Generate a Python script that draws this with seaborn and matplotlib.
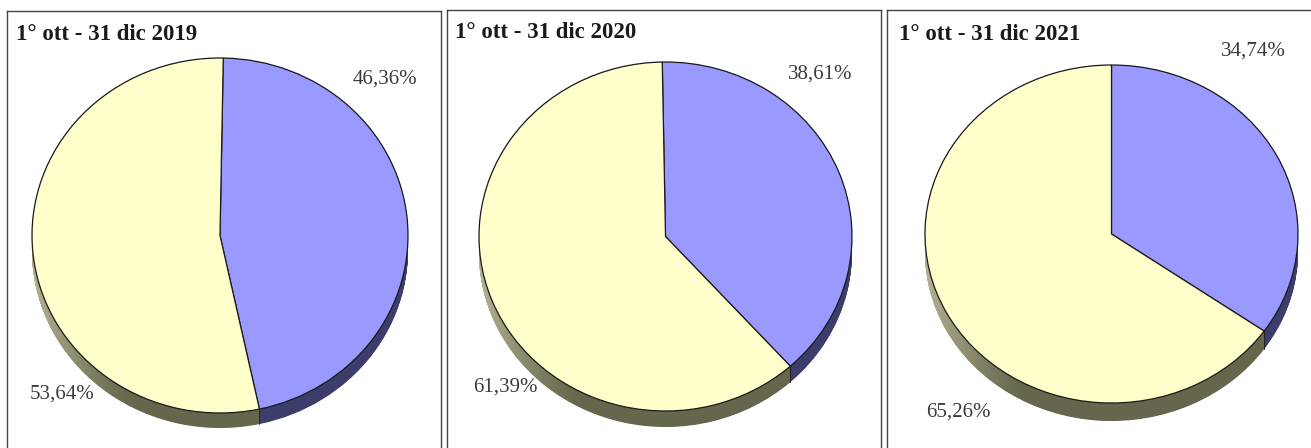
import numpy as np
import matplotlib
matplotlib.use("Agg")
import matplotlib.pyplot as plt
from matplotlib.path import Path
from matplotlib.colors import to_rgb
import seaborn as sns

# Data
titles = ["1° ott - 31 dic 2019", "1° ott - 31 dic 2020", "1° ott - 31 dic 2021"]
blue_share = [46.36, 38.61, 34.74]
yellow_share = [53.64, 61.39, 65.26]

W, H = 1311, 448

# Layout in pixels of the reference (y down)
frames = [(7, 11, 441.5, 460), (447, 10, 881, 460), (886.5, 10, 1325, 460)]
centers = [(220, 235.5), (665.5, 236.5), (1111.5, 234)]
radii = [(188, 177.5), (186.5, 174.5), (186.5, 169)]
depths = [15, 16, 18]
starts = [1.0, -1.0, 0.0]
title_pos = [(16, 34), (455, 33), (899, 35)]
blue_pos = [(385, 79), (820, 74), (1253, 51)]
yellow_pos = [(62, 394), (505, 387), (958, 412)]

sns.set_theme(style="white")
plt.rcParams["font.family"] = ["Liberation Serif", "DejaVu Serif"]

top_colors = sns.color_palette(["#9999FF", "#FFFFCC"])
side_colors = sns.color_palette(["#3D3D6B", "#66664C"])


def draw_panel(fig, i):
    x0, y0, x1, y1 = frames[i]
    cx, cy = centers[i]
    rx, ry = radii[i]
    ax = fig.add_axes([x0 / W, 1 - y1 / H, (x1 - x0) / W, (y1 - y0) / H])
    values = [blue_share[i], yellow_share[i]]
    # pie goes clockwise from the start angle
    start = 90 - starts[i]
    d = depths[i] / ry

    # rim: stacked copies of the pie pushed downwards
    stack = []
    for off in np.linspace(d, 0, depths[i] * 2):
        wedges, _ = ax.pie(values, colors=side_colors, startangle=start, counterclock=False,
                           center=(0, -off), radius=1, wedgeprops={"linewidth": 0}, normalize=True)
        stack.append(wedges[1])
        for w in wedges:
            w.set_zorder(1)

    # lighter left side of the olive rim
    clip = Path.make_compound_path(*[w.get_path() for w in stack])
    grad = np.zeros((1, 256, 4))
    grad[..., :3] = to_rgb("#B8B896")
    grad[..., 3] = np.clip(np.linspace(1, 0, 256), 0, 1) ** 1.3
    im = ax.imshow(grad, extent=(-1.02, -0.45, -1.3, 0.5), aspect="auto", zorder=2)
    im.set_clip_path(clip, ax.transData)

    # divider on the rim at the end of the blue slice
    ang = np.deg2rad(start - 360 * values[0] / 100)
    ax.plot([np.cos(ang)] * 2, [np.sin(ang), np.sin(ang) - d], color="#222222", lw=0.7, zorder=3)

    # top face
    top, _ = ax.pie(values, colors=top_colors, startangle=start, counterclock=False,
                    radius=1, wedgeprops={"edgecolor": "#1a1a1a", "linewidth": 0.9}, normalize=True)
    for w in top:
        w.set_zorder(4)

    ax.set_aspect("auto")
    ax.set_xlim((x0 - cx) / rx, (x1 - cx) / rx)
    ax.set_ylim((cy - y1) / ry, (cy - y0) / ry)
    ax.set_xticks([])
    ax.set_yticks([])
    ax.set_frame_on(True)
    for s in ax.spines.values():
        s.set_visible(True)
        s.set_color("#444444")
        s.set_linewidth(1.0)

    px = lambda p: (p[0] / W, 1 - p[1] / H)
    fig.text(*px(title_pos[i]), titles[i], fontsize=16.5, fontweight="bold", color="#1a1a1a", va="center", ha="left")
    fig.text(*px(blue_pos[i]), f"{values[0]:.2f}%".replace(".", ","), fontsize=15, color="#3a3a3a", va="center", ha="center")
    fig.text(*px(yellow_pos[i]), f"{values[1]:.2f}%".replace(".", ","), fontsize=15, color="#3a3a3a", va="center", ha="center")


def main():
    fig = plt.figure(figsize=(W / 100, H / 100), dpi=100, facecolor="white")
    for i in range(3):
        draw_panel(fig, i)
    fig.savefig("out.png", dpi=100)
    plt.close(fig)


if __name__ == "__main__":
    main()
